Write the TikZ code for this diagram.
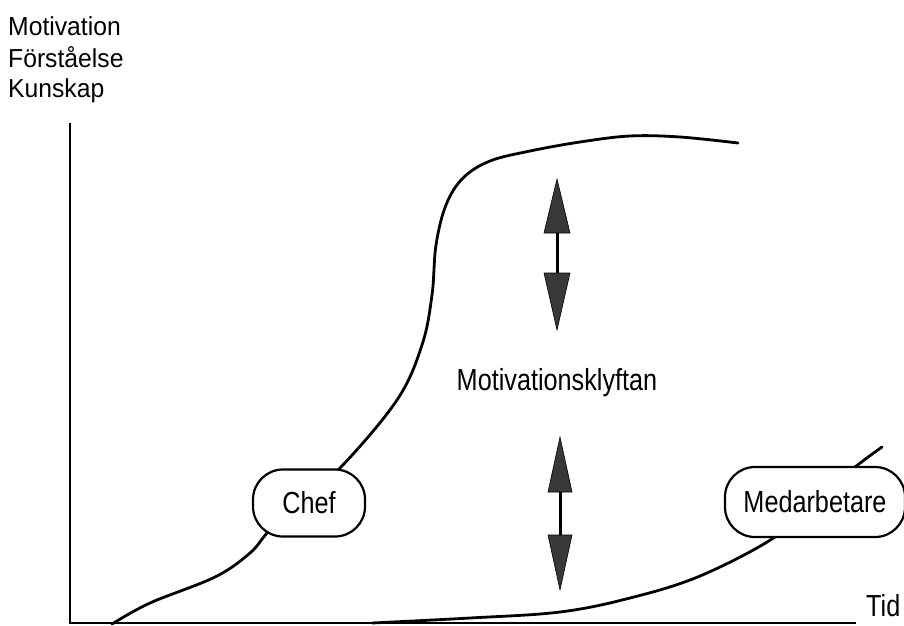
\documentclass[tikz,border=0pt]{standalone}
\usepackage{fontspec}
\setmainfont{Liberation Sans}
\newcommand{\cnd}[1]{\scalebox{0.87}[1.05]{#1}}
\newcommand{\cndt}[1]{\scalebox{0.95}[1]{#1}}
\begin{document}
\begin{tikzpicture}[x=1pt,y=-1pt,
  axisline/.style={line width=2.4pt},
  curveline/.style={line width=2.8pt, line cap=round},
  labelbox/.style={draw, line width=2.2pt, fill=white, rounded corners=30pt, inner sep=0pt},
  bigtext/.style={font=\fontsize{29}{34}\selectfont},
  titletext/.style={font=\fontsize{26}{30}\selectfont, anchor=base west, inner sep=0pt},
  headfill/.style={fill=black!78, draw=black, line width=0.6pt},
  shaft/.style={line width=3pt}]
\useasboundingbox (0,0) rectangle (904,625);
% axis title
\node[titletext] (t1) at (8,35) {\cndt{Motivation}};
\node[titletext] (t2) at (8,67) {\cndt{Förståelse}};
\node[titletext] (t3) at (8,97) {\cndt{Kunskap}};
% axes
\coordinate (ytop) at (70,123);
\coordinate (orig) at (70,623);
\coordinate (xend) at (856,623);
\draw[axisline] (ytop) -- (orig) -- (xend);
\node[bigtext, anchor=base west, inner sep=0pt] (tid) at (866,616) {\cnd{Tid}};
% Chef curve
\draw[curveline] plot[smooth, tension=0.6] coordinates {
 (112,624) (150,603) (215,577) (250,553) (268,532) (300,500) (340,468)
 (397,400) (422,345) (432,295) (436,245) (446,205) (463,178) (490,161)
 (530,151) (580,142) (630,136) (680,137) (738,143)};
% Medarbetare curve
\draw[curveline] plot[smooth, tension=0.6] coordinates {
 (372,623) (470,618) (560,612) (630,598) (700,576) (775,537) (815,500)
 (855,467) (882,447)};
% boxes
\node[labelbox, minimum width=112pt, minimum height=67pt, bigtext] (chef) at (309,503) {\cnd{Chef}};
\node[labelbox, minimum width=180pt, minimum height=70pt, bigtext] (med) at (815,502) {\cnd{Medarbetare}};
% middle label
\node[bigtext] (gap) at (557,383) {\cnd{Motivationsklyftan}};
% upper double arrow
\coordinate (a1t) at (557,179);
\coordinate (a1u) at (557,233);
\coordinate (a1l) at (557,273);
\coordinate (a1b) at (557,330);
\draw[shaft] (a1u) -- (a1l);
\filldraw[headfill] (a1t) -- ([xshift=-13pt]a1u) -- ([xshift=13pt]a1u) -- cycle;
\filldraw[headfill] (a1b) -- ([xshift=-13pt]a1l) -- ([xshift=13pt]a1l) -- cycle;
% lower double arrow
\coordinate (a2t) at (560,437);
\coordinate (a2u) at (560,492);
\coordinate (a2l) at (560,535);
\coordinate (a2b) at (560,590);
\draw[shaft] (a2u) -- (a2l);
\filldraw[headfill] (a2t) -- ([xshift=-12pt]a2u) -- ([xshift=12pt]a2u) -- cycle;
\filldraw[headfill] (a2b) -- ([xshift=-12pt]a2l) -- ([xshift=12pt]a2l) -- cycle;
\end{tikzpicture}
\end{document}
